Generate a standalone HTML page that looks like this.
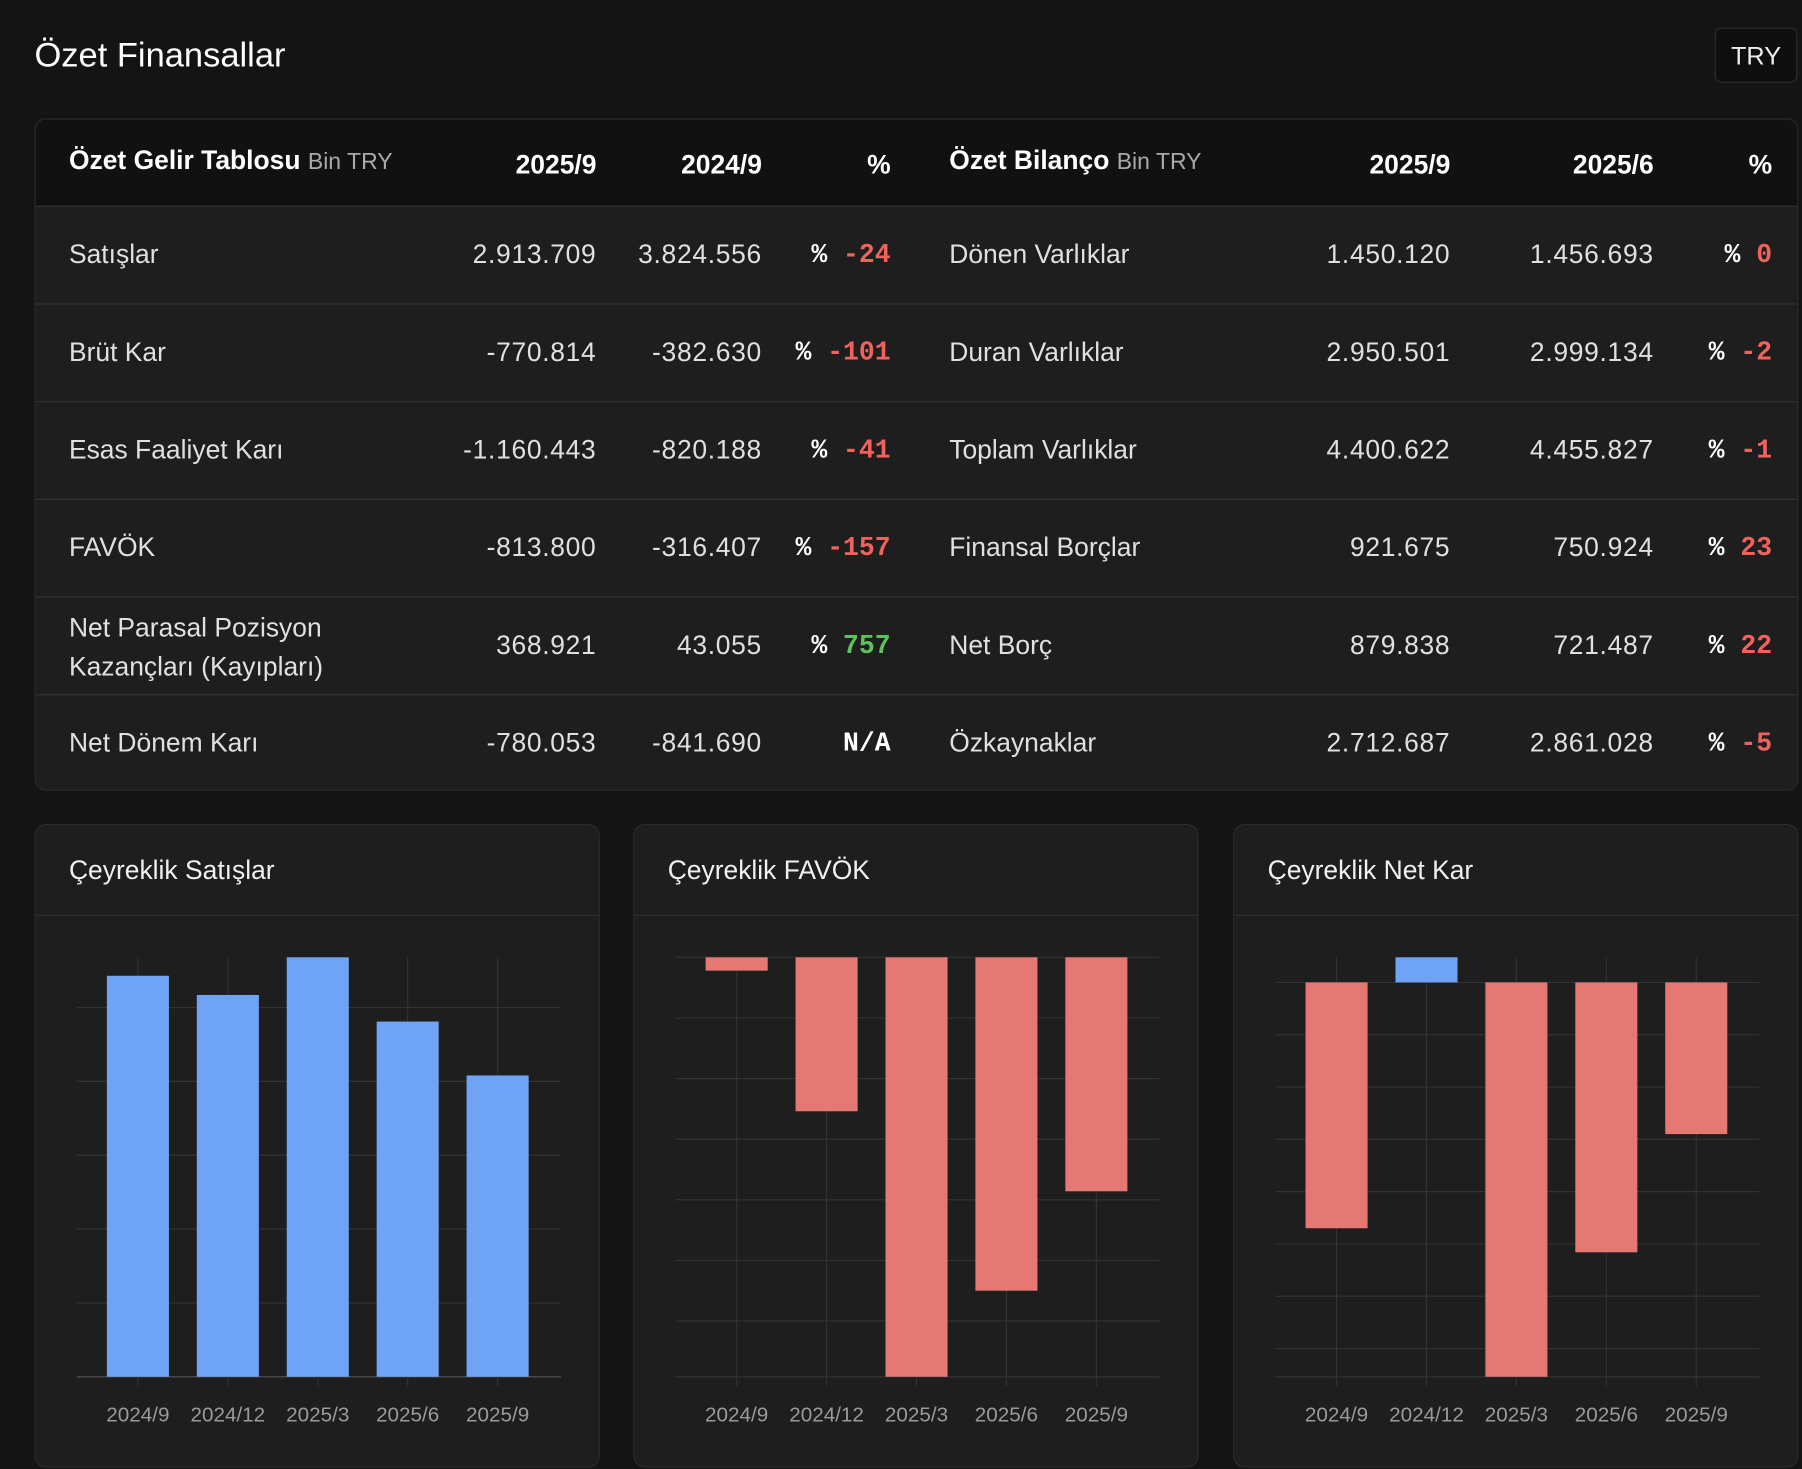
<!DOCTYPE html>
<html><head><meta charset="utf-8">
<style>
html,body{margin:0;padding:0;background:#141414;width:1802px;height:1436px;overflow:hidden}
#wrap{position:absolute;left:0;top:0;width:1568px;height:1250px;transform:scale(1.14923);transform-origin:0 0;font-family:"Liberation Sans",sans-serif;color:#e6e6e6}
.title{position:absolute;left:30px;top:32px;font-size:30px;color:#fff}
.try{position:absolute;left:1492px;top:24px;width:72px;height:48px;border:1px solid #2e2e2e;border-radius:6px;background:#0f0f0f;color:#eee;font-size:22px;line-height:48px;text-align:center;box-sizing:border-box}
.table{position:absolute;left:30px;top:103px;width:1535px;height:585px;border:1px solid #2b2b2b;border-radius:10px;background:#1e1e1e;overflow:hidden;box-sizing:border-box}
.hdr{position:absolute;left:0;top:0;width:100%;height:75px;background:#111}
.row{position:absolute;left:0;width:100%;height:85px;border-top:1px solid #333;box-sizing:border-box}
.c{position:absolute;white-space:nowrap}
.lbl{font-size:23px;color:#e0e0e0}
.num{font-size:23px;color:#e0e0e0;text-align:right;letter-spacing:0.6px}
.h{font-size:23px;font-weight:bold;color:#fff}
.pct{font-family:"Liberation Mono",monospace;font-weight:bold;font-size:23px;text-align:right;color:#fff}
.red{color:#f0625c}.green{color:#5cc25c}
.card{position:absolute;top:717px;width:492px;height:560px;border:1px solid #2b2b2b;border-radius:10px;background:#1e1e1e;box-sizing:border-box}
.card .ct{position:absolute;left:29px;top:26px;font-size:23px;color:#f0f0f0}
.card .sep{position:absolute;left:0;top:78px;width:100%;height:1px;background:#2e2e2e}
.card svg{position:absolute;left:0;top:0}
</style></head><body>
<div id="wrap">
<div class="title">Özet Finansallar</div>
<div class="try">TRY</div>
<div class="table" id="tbl">
<div class="hdr">
<div class="c h" style="left:29px;top:22px">Özet Gelir Tablosu <span style="font-weight:normal;color:#aaa;font-size:20px">Bin TRY</span></div>
<div class="c h" style="right:1045px;top:26px">2025/9</div>
<div class="c h" style="right:901px;top:26px">2024/9</div>
<div class="c h" style="right:789px;top:26px">%</div>
<div class="c h" style="left:795px;top:22px">Özet Bilanço <span style="font-weight:normal;color:#aaa;font-size:20px">Bin TRY</span></div>
<div class="c h" style="right:302px;top:26px">2025/9</div>
<div class="c h" style="right:125px;top:26px">2025/6</div>
<div class="c h" style="right:22px;top:26px">%</div>
</div>
</div>
<div class="card" style="left:30px"><div class="ct">Çeyreklik Satışlar</div><div class="sep"></div><svg id="ch1" width="492" height="560"></svg></div>
<div class="card" style="left:551px"><div class="ct">Çeyreklik FAVÖK</div><div class="sep"></div><svg id="ch2" width="492" height="560"></svg></div>
<div class="card" style="left:1073px"><div class="ct">Çeyreklik Net Kar</div><div class="sep"></div><svg id="ch3" width="492" height="560"></svg></div>
</div>
<script>
const rowsL=[["Satışlar","2.913.709","3.824.556","-24","red"],["Brüt Kar","-770.814","-382.630","-101","red"],["Esas Faaliyet Karı","-1.160.443","-820.188","-41","red"],["FAVÖK","-813.800","-316.407","-157","red"],["Net Parasal Pozisyon<br>Kazançları (Kayıpları)","368.921","43.055","757","green"],["Net Dönem Karı","-780.053","-841.690","N/A",""]];
const rowsR=[["Dönen Varlıklar","1.450.120","1.456.693","0","red"],["Duran Varlıklar","2.950.501","2.999.134","-2","red"],["Toplam Varlıklar","4.400.622","4.455.827","-1","red"],["Finansal Borçlar","921.675","750.924","23","red"],["Net Borç","879.838","721.487","22","red"],["Özkaynaklar","2.712.687","2.861.028","-5","red"]];
const tbl=document.getElementById('tbl');
for(let i=0;i<6;i++){
 const r=document.createElement('div');r.className='row';r.style.top=(75+i*85)+'px';
 
 
 const L=rowsL[i],R=rowsR[i];
 const two=L[0].includes('<br>');
 const pc=(v,c)=>v==='N/A'?'N/A':'% <span class="'+c+'">'+v+'</span>';
 r.innerHTML=`<div class="c lbl" style="left:29px;top:${two?9:28}px;${two?'line-height:34px':''}">${L[0]}</div>
<div class="c num" style="right:1045px;top:28px">${L[1]}</div>
<div class="c num" style="right:901px;top:28px">${L[2]}</div>
<div class="c pct" style="right:789px;top:29px">${pc(L[3],L[4])}</div>
<div class="c lbl" style="left:795px;top:28px">${R[0]}</div>
<div class="c num" style="right:302px;top:28px">${R[1]}</div>
<div class="c num" style="right:125px;top:28px">${R[2]}</div>
<div class="c pct" style="right:22px;top:29px">${pc(R[3],R[4])}</div>`;
 tbl.appendChild(r);
}
const quarters=["2024/9","2024/12","2025/3","2025/6","2025/9"];
const salesVals=[1086000,1034000,1136000,962000,816000];
const favokVals=[-11000,-127000,-346000,-275000,-193000];
const netVals=[-235000,24000,-377000,-258000,-145000];
const gridStep=[200000,50000,50000];
const NS='http://www.w3.org/2000/svg';
function mk(t,a,p){const e=document.createElementNS(NS,t);for(const k in a)e.setAttribute(k,a[k]);p.appendChild(e);return e;}
function chart(id,vals,step,name){
 const svg=document.getElementById(id);
 const L=36,R=457,T=115,B=480;
 const mx=Math.max(0,...vals),mn=Math.min(0,...vals);
 const y=v=>T+(mx-v)/(mx-mn)*(B-T);
 const x=i=>L+53+i*(R-L-108)/(vals.length-1);
 for(let g=0;g>=mn;g-=step){const l=mk('line',{x1:L,x2:R,y1:y(g),y2:y(g),stroke:g===0&&mn===0?'#555':'#333','stroke-width':1},svg);}
 for(let g=step;g<=mx;g+=step){const l=mk('line',{x1:L,x2:R,y1:y(g),y2:y(g),stroke:'#333','stroke-width':1},svg);}
 if(mn<0){mk('line',{x1:L,x2:R,y1:B,y2:B,stroke:'#333'},svg);}
 vals.forEach((v,i)=>{
  const vl=mk('line',{x1:x(i),x2:x(i),y1:T,y2:B+8,stroke:'#333'},svg);
  
  
  const y0=y(0),y1=y(v);
  const r=mk('rect',{x:x(i)-27,width:54,y:Math.min(y0,y1),height:Math.abs(y1-y0),fill:v>=0?'#6fa3f5':'#e57873'},svg);
  
  
  const t=mk('text',{x:x(i),y:519,'text-anchor':'middle',fill:'#9a9a9a','font-size':18,'font-family':'Liberation Sans, sans-serif'},svg);
  t.textContent=quarters[i];
  
  
 });
}
chart('ch1',salesVals,gridStep[0],'sales');
chart('ch2',favokVals,gridStep[1],'favok');
chart('ch3',netVals,gridStep[2],'net-profit');
</script>
</body></html>
